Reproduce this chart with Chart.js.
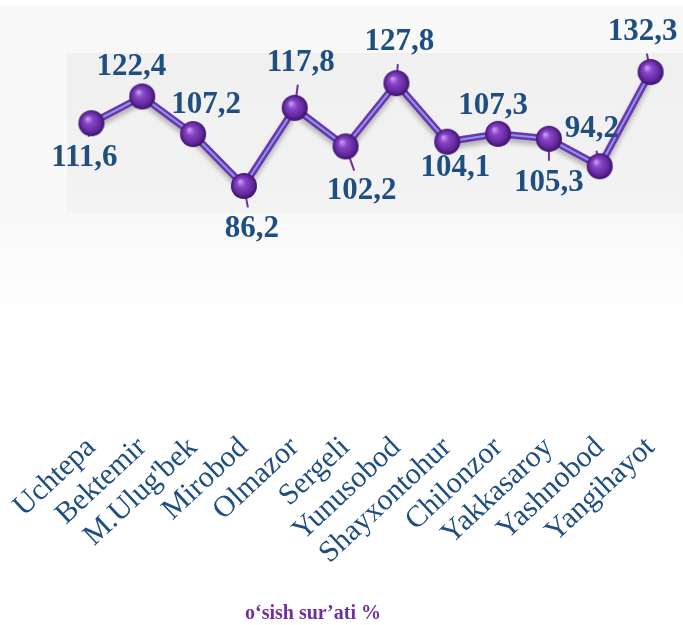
<!DOCTYPE html>
<html>
<head>
<meta charset="utf-8">
<script src="https://cdn.jsdelivr.net/npm/chart.js@4.4.1/dist/chart.umd.min.js"></script>
<style>
html, body { margin: 0; padding: 0; background: #fff; }
#wrap { width: 683px; height: 625px; }
</style>
</head>
<body>
<div id="wrap"><canvas id="chart-area" width="683" height="625"></canvas></div>
<script>
// tumanlar
var districts = ['Uchtepa', 'Bektemir', "M.Ulug'bek", 'Mirobod', 'Olmazor', 'Sergeli',
	'Yunusobod', 'Shayxontohur', 'Chilonzor', 'Yakkasaroy', 'Yashnobod', 'Yangihayot'];
// o'sish sur'ati, %
var growth = [111.6, 122.4, 107.2, 86.2, 117.8, 102.2, 127.8, 104.1, 107.3, 105.3, 94.2, 132.3];
var seriesName = 'o\u2018sish sur\u2019ati %';

// where each value label sits relative to its point (px)
var labelDx = [-7, -11, 13, 8, 6, 16, 3, 8, -5, 0, -8, -8];
var labelDy = [35, -30, -29, 43, -45, 45, -41, 26, -28, 44, -37, -40];

var serif = '"Liberation Serif", "Times New Roman", serif';
var textBlue = '#1f4e80';
var purple = '#7030a0';

// purple ball used as the point marker
function makeSphere(r) {
	var c = document.createElement('canvas');
	c.width = c.height = r * 2 + 2;
	var g = c.getContext('2d');
	var cx = r + 1, cy = r + 1;
	var grd = g.createRadialGradient(cx - r * 0.3, cy - r * 0.35, r * 0.05, cx, cy, r);
	grd.addColorStop(0, '#c49af0');
	grd.addColorStop(0.3, '#8a45c8');
	grd.addColorStop(0.75, '#62289e');
	grd.addColorStop(1, '#3a1266');
	g.fillStyle = grd;
	g.beginPath();
	g.arc(cx, cy, r, 0, Math.PI * 2);
	g.fill();
	return c;
}
var sphere = makeSphere(13);

var decorPlugin = {
	id: 'decor',
	beforeDraw: function (chart) {
		var ctx = chart.ctx;
		ctx.save();
		ctx.fillStyle = '#fff';
		ctx.fillRect(0, 0, chart.width, chart.height);
		var bg = ctx.createLinearGradient(0, 5, 0, 320);
		bg.addColorStop(0, '#f9f9f9');
		bg.addColorStop(0.7, '#f9f9f9');
		bg.addColorStop(1, '#ffffff');
		ctx.fillStyle = bg;
		ctx.fillRect(0, 5, chart.width, 315);
		var panel = ctx.createLinearGradient(0, 53, 0, 213);
		panel.addColorStop(0, '#f0f0f0');
		panel.addColorStop(1, '#f3f3f3');
		ctx.fillStyle = panel;
		ctx.fillRect(67, 53, chart.width - 67, 160);
		ctx.restore();
	},
	beforeDatasetDraw: function (chart, args) {
		if (args.index === 1) {
			var ctx = chart.ctx;
			ctx.save();
			ctx.shadowColor = 'rgba(0,0,0,0.28)';
			ctx.shadowBlur = 5;
			ctx.shadowOffsetY = 4;
		}
	},
	afterDatasetDraw: function (chart, args) {
		if (args.index !== 1) return;
		var ctx = chart.ctx;
		ctx.restore();
		// leader lines toward the labels
		var pts = chart.getDatasetMeta(0).data;
		ctx.save();
		ctx.strokeStyle = purple;
		ctx.lineWidth = 2;
		for (var i = 0; i < pts.length; i++) {
			var d = Math.sqrt(labelDx[i] * labelDx[i] + labelDy[i] * labelDy[i]);
			var len = d - 22;
			if (len <= 13) continue;
			ctx.beginPath();
			ctx.moveTo(pts[i].x, pts[i].y);
			ctx.lineTo(pts[i].x + labelDx[i] / d * len, pts[i].y + labelDy[i] / d * len);
			ctx.stroke();
		}
		ctx.restore();
	},
	afterDraw: function (chart) {
		var ctx = chart.ctx;
		var pts = chart.getDatasetMeta(0).data;
		ctx.save();
		ctx.font = 'bold 31px ' + serif;
		ctx.fillStyle = textBlue;
		ctx.textAlign = 'center';
		ctx.textBaseline = 'middle';
		for (var i = 0; i < pts.length; i++) {
			var txt = growth[i].toFixed(1).replace('.', ',');
			ctx.fillText(txt, pts[i].x + labelDx[i], pts[i].y + labelDy[i]);
		}
		// legend
		ctx.font = 'bold 20px ' + serif;
		ctx.fillStyle = purple;
		ctx.fillText(chart.data.datasets[0].label, 313, 614);
		ctx.restore();
	}
};

var config = {
	type: 'line',
	data: {
		labels: districts,
		datasets: [{
			label: seriesName,
			data: growth,
			borderColor: '#7b9fe8',
			borderWidth: 2,
			pointStyle: sphere,
			pointRadius: 13,
			pointHoverRadius: 13,
			fill: false,
			clip: false,
			tension: 0
		}, {
			label: seriesName,
			data: growth,
			borderColor: '#7332b0',
			borderWidth: 7,
			pointRadius: 0,
			pointHoverRadius: 0,
			fill: false,
			clip: false,
			tension: 0
		}]
	},
	options: {
		responsive: false,
		animation: false,
		devicePixelRatio: 1,
		layout: { autoPadding: false, padding: { left: 66, right: 7, top: 53, bottom: 0 } },
		plugins: {
			legend: { display: false },
			tooltip: { enabled: false }
		},
		scales: {
			x: {
				offset: true,
				grid: { display: false, drawTicks: false },
				border: { display: false },
				ticks: {
					autoSkip: false,
					minRotation: 43,
					maxRotation: 43,
					padding: 31,
					color: textBlue,
					font: { family: serif, size: 30 }
				},
				afterFit: function (scale) {
					scale.height = 226;
					scale.paddingLeft = 0;
					scale.paddingRight = 0;
				}
			},
			y: { display: false, min: 0, max: 140 }
		}
	},
	plugins: [decorPlugin]
};

var ctx = document.getElementById('chart-area').getContext('2d');
window.myLine = new Chart(ctx, config);
</script>
</body>
</html>
